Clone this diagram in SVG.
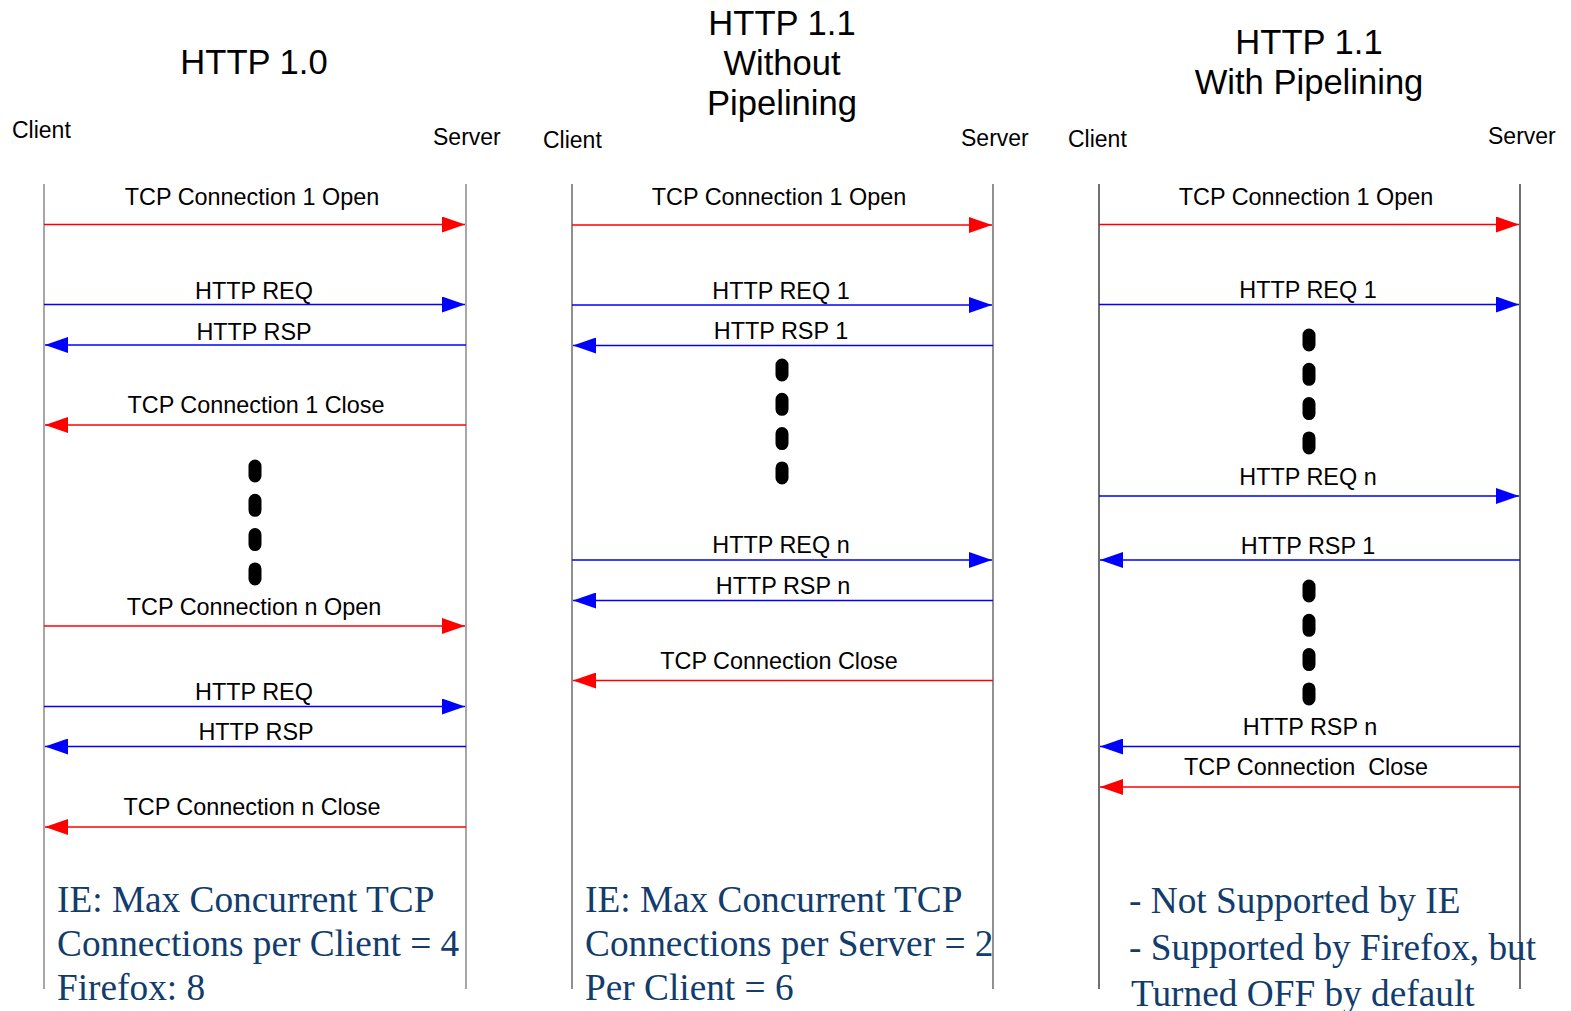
<svg xmlns="http://www.w3.org/2000/svg" width="1571" height="1011" viewBox="0 0 1571 1011">
  <style>
    .title { font-family: "Liberation Sans", Arial, sans-serif; font-size: 34.6px; fill: #000; text-anchor: middle; }
    .actor { font-family: "Liberation Sans", Arial, sans-serif; font-size: 23px; fill: #000; }
    .msg { font-family: "Liberation Sans", Arial, sans-serif; font-size: 23.4px; fill: #000; text-anchor: middle; }
    .note { font-family: "Liberation Serif", "Times New Roman", serif; font-size: 37.3px; fill: #113c6b; }
    .life { stroke-width: 1.3; fill: none; }
    .tcp { stroke: #ff0000; stroke-width: 1.3; marker-end: url(#headRed); }
    .http { stroke: #0000ff; stroke-width: 1.3; marker-end: url(#headBlue); }
    .dots { stroke: #000; stroke-width: 13; stroke-linecap: round; stroke-dasharray: 10 24.3; fill: none; }
  </style>
  <defs>
    <marker id="headRed" markerUnits="userSpaceOnUse" markerWidth="24" markerHeight="16" refX="23" refY="8" orient="auto">
      <path d="M0,0 L23,8 L0,16 z" fill="#ff0000"/>
    </marker>
    <marker id="headBlue" markerUnits="userSpaceOnUse" markerWidth="24" markerHeight="16" refX="23" refY="8" orient="auto">
      <path d="M0,0 L23,8 L0,16 z" fill="#0000ff"/>
    </marker>
  </defs>
  <rect width="1571" height="1011" fill="#ffffff"/>

  <!-- HTTP 1.0 -->
  <g id="http10">
    <text class="title" x="254" y="74">HTTP 1.0</text>
    <g id="http10-client">
      <text class="actor" x="12" y="138">Client</text>
      <line class="life" x1="44" y1="184" x2="44" y2="989" stroke="#777"/>
    </g>
    <g id="http10-server">
      <text class="actor" x="433" y="145">Server</text>
      <line class="life" x1="466" y1="184" x2="466" y2="989" stroke="#777"/>
    </g>
    <path class="dots" d="M255,466 V580"/>
    <g id="http10-note">
      <text class="note" x="57" y="912">IE: Max Concurrent TCP</text>
      <text class="note" x="57" y="956">Connections per Client = 4</text>
      <text class="note" x="57" y="1000">Firefox: 8</text>
    </g>
  </g>

  <!-- HTTP 1.1 without pipelining -->
  <g id="http11">
    <text class="title" x="782" y="35">HTTP 1.1</text>
    <text class="title" x="782" y="75">Without</text>
    <text class="title" x="782" y="115">Pipelining</text>
    <g id="http11-client">
      <text class="actor" x="543" y="148">Client</text>
      <line class="life" x1="572" y1="184" x2="572" y2="989" stroke="#555"/>
    </g>
    <g id="http11-server">
      <text class="actor" x="961" y="146">Server</text>
      <line class="life" x1="993" y1="184" x2="993" y2="989" stroke="#555"/>
    </g>
    <path class="dots" d="M782,365 V480"/>
    <g id="http11-note">
      <text class="note" x="585" y="912">IE: Max Concurrent TCP</text>
      <text class="note" x="585" y="956">Connections per Server = 2</text>
      <text class="note" x="585" y="1000">Per Client = 6</text>
    </g>
  </g>

  <!-- HTTP 1.1 with pipelining -->
  <g id="http11p">
    <text class="title" x="1309" y="54">HTTP 1.1</text>
    <text class="title" x="1309" y="94">With Pipelining</text>
    <g id="http11p-client">
      <text class="actor" x="1068" y="147">Client</text>
      <line class="life" x1="1099" y1="184" x2="1099" y2="989" stroke="#222"/>
    </g>
    <g id="http11p-server">
      <text class="actor" x="1488" y="144">Server</text>
      <line class="life" x1="1520" y1="184" x2="1520" y2="989" stroke="#222"/>
    </g>
    <path class="dots" d="M1309,335 V450"/>
    <path class="dots" d="M1309,586 V701"/>
    <g id="http11p-note">
      <text class="note" x="1129" y="913">- Not Supported by IE</text>
      <text class="note" x="1129" y="960">- Supported by Firefox, but</text>
      <text class="note" x="1131" y="1006">Turned OFF by default</text>
    </g>
  </g>

  <!-- message arrows -->
  <g id="connectors">
    <line class="tcp" x1="44" y1="224.5" x2="465" y2="224.5"/>
    <line class="http" x1="44" y1="304.5" x2="465" y2="304.5"/>
    <line class="http" x1="466" y1="345" x2="45" y2="345"/>
    <line class="tcp" x1="466" y1="425" x2="45" y2="425"/>
    <line class="tcp" x1="44" y1="626" x2="465" y2="626"/>
    <line class="http" x1="44" y1="706.5" x2="465" y2="706.5"/>
    <line class="http" x1="466" y1="746.5" x2="45" y2="746.5"/>
    <line class="tcp" x1="466" y1="827" x2="45" y2="827"/>

    <line class="tcp" x1="572" y1="225" x2="992" y2="225"/>
    <line class="http" x1="572" y1="305" x2="992" y2="305"/>
    <line class="http" x1="993" y1="345.5" x2="573" y2="345.5"/>
    <line class="http" x1="572" y1="560" x2="992" y2="560"/>
    <line class="http" x1="993" y1="600.5" x2="573" y2="600.5"/>
    <line class="tcp" x1="993" y1="680.5" x2="573" y2="680.5"/>

    <line class="tcp" x1="1099" y1="224.5" x2="1519" y2="224.5"/>
    <line class="http" x1="1099" y1="304.5" x2="1519" y2="304.5"/>
    <line class="http" x1="1099" y1="496" x2="1519" y2="496"/>
    <line class="http" x1="1520" y1="560" x2="1100" y2="560"/>
    <line class="http" x1="1520" y1="746.5" x2="1100" y2="746.5"/>
    <line class="tcp" x1="1520" y1="787" x2="1100" y2="787"/>

    <text class="msg" x="252" y="205">TCP Connection 1 Open</text>
    <text class="msg" x="254" y="299">HTTP REQ</text>
    <text class="msg" x="254" y="340">HTTP RSP</text>
    <text class="msg" x="256" y="413">TCP Connection 1 Close</text>
    <text class="msg" x="254" y="615">TCP Connection n Open</text>
    <text class="msg" x="254" y="700">HTTP REQ</text>
    <text class="msg" x="256" y="740">HTTP RSP</text>
    <text class="msg" x="252" y="815">TCP Connection n Close</text>

    <text class="msg" x="779" y="205">TCP Connection 1 Open</text>
    <text class="msg" x="781" y="299">HTTP REQ 1</text>
    <text class="msg" x="781" y="339">HTTP RSP 1</text>
    <text class="msg" x="781" y="553">HTTP REQ n</text>
    <text class="msg" x="783" y="594">HTTP RSP n</text>
    <text class="msg" x="779" y="669">TCP Connection Close</text>

    <text class="msg" x="1306" y="205">TCP Connection 1 Open</text>
    <text class="msg" x="1308" y="298">HTTP REQ 1</text>
    <text class="msg" x="1308" y="485">HTTP REQ n</text>
    <text class="msg" x="1308" y="554">HTTP RSP 1</text>
    <text class="msg" x="1310" y="735">HTTP RSP n</text>
    <text class="msg" x="1306" y="775">TCP Connection&#160; Close</text>
  </g>
</svg>
